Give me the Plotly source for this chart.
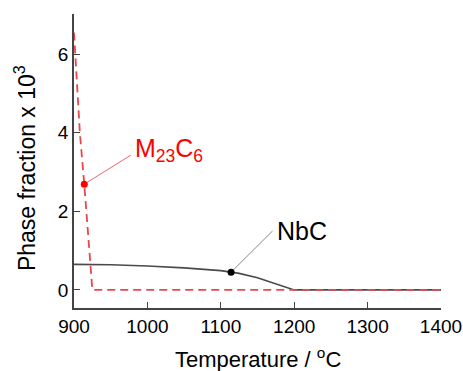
import plotly.graph_objects as go

# Data
nbc_T = [900, 950, 1000, 1050, 1100, 1125, 1150, 1175, 1200, 1300, 1400]
nbc_f = [0.65, 0.64, 0.61, 0.56, 0.49, 0.42, 0.31, 0.16, 0.0, 0.0, 0.0]
m23_T = [900, 908, 914, 920, 925, 1000, 1200, 1400]
m23_f = [6.55, 4.0, 2.69, 1.3, 0.0, 0.0, 0.0, 0.0]
nbc_mark = (1114, 0.45)
m23_mark = (914, 2.69)
nbc_label_end = (1170.5, 1.50)
m23_label_end = (977.5, 3.43)
x_ticks = [900, 1000, 1100, 1200, 1300, 1400]
y_ticks = [0, 2, 4, 6]

red_line = "#e8474b"
FONT = "Liberation Sans, Arial, sans-serif"

fig = go.Figure()
fig.add_trace(go.Scatter(x=nbc_T, y=nbc_f, mode="lines",
                         line=dict(color="#4a4a4a", width=1.6), hoverinfo="skip"))
fig.add_trace(go.Scatter(x=m23_T, y=m23_f, mode="lines",
                         line=dict(color=red_line, width=1.8, dash="8px,5px"), hoverinfo="skip"))
# leader lines
fig.add_trace(go.Scatter(x=[m23_mark[0], m23_label_end[0]], y=[m23_mark[1], m23_label_end[1]],
                         mode="lines", line=dict(color="#ee6666", width=1), hoverinfo="skip"))
fig.add_trace(go.Scatter(x=[nbc_mark[0], nbc_label_end[0]], y=[nbc_mark[1], nbc_label_end[1]],
                         mode="lines", line=dict(color="#888888", width=1), hoverinfo="skip"))
# markers
fig.add_trace(go.Scatter(x=[m23_mark[0]], y=[m23_mark[1]], mode="markers",
                         marker=dict(color="#ff0000", size=7), hoverinfo="skip"))
fig.add_trace(go.Scatter(x=[nbc_mark[0]], y=[nbc_mark[1]], mode="markers",
                         marker=dict(color="#000000", size=7), hoverinfo="skip"))

fig.add_annotation(x=980.0, y=3.56, xref="x", yref="y", text="M<sub>23</sub>C<sub>6</sub>",
                   showarrow=False, xanchor="left", yanchor="middle",
                   font=dict(family=FONT, size=25, color="#ff0000"))
fig.add_annotation(x=1174.5, y=1.5, xref="x", yref="y", text="NbC",
                   showarrow=False, xanchor="left", yanchor="middle",
                   font=dict(family=FONT, size=25, color="#000000"))

# axis titles
fig.add_annotation(x=0.5, y=0, xref="paper", yref="paper", yshift=-50,
                   text="Temperature / <sup>o</sup>C", showarrow=False,
                   xanchor="center", yanchor="middle",
                   font=dict(family=FONT, size=22, color="#000000"))
fig.add_annotation(x=0, y=0.476, xref="paper", yref="paper", xshift=-49,
                   text="Phase fraction x 10<sup>3</sup>", showarrow=False, textangle=-90,
                   xanchor="center", yanchor="middle",
                   font=dict(family=FONT, size=23, color="#000000"))

fig.update_layout(
    width=463, height=371, autosize=False,
    margin=dict(l=74, r=22, t=14, b=63, autoexpand=False),
    paper_bgcolor="white", plot_bgcolor="white",
    showlegend=False,
    font=dict(family=FONT, size=19, color="#000000"),
)
fig.update_xaxes(range=[900, 1400], tickvals=x_ticks, ticks="inside", ticklen=6,
                 tickcolor="#444444", showline=True, linecolor="#444444", linewidth=1.5,
                 showgrid=False, zeroline=False, tickfont=dict(size=19), automargin=False)
fig.update_yaxes(range=[-0.46, 7.02], tickvals=y_ticks, ticks="inside", ticklen=6,
                 tickcolor="#444444", showline=True, linecolor="#444444", linewidth=1.5,
                 showgrid=False, zeroline=False, tickfont=dict(size=19), automargin=False)

fig.write_html("out.html")
